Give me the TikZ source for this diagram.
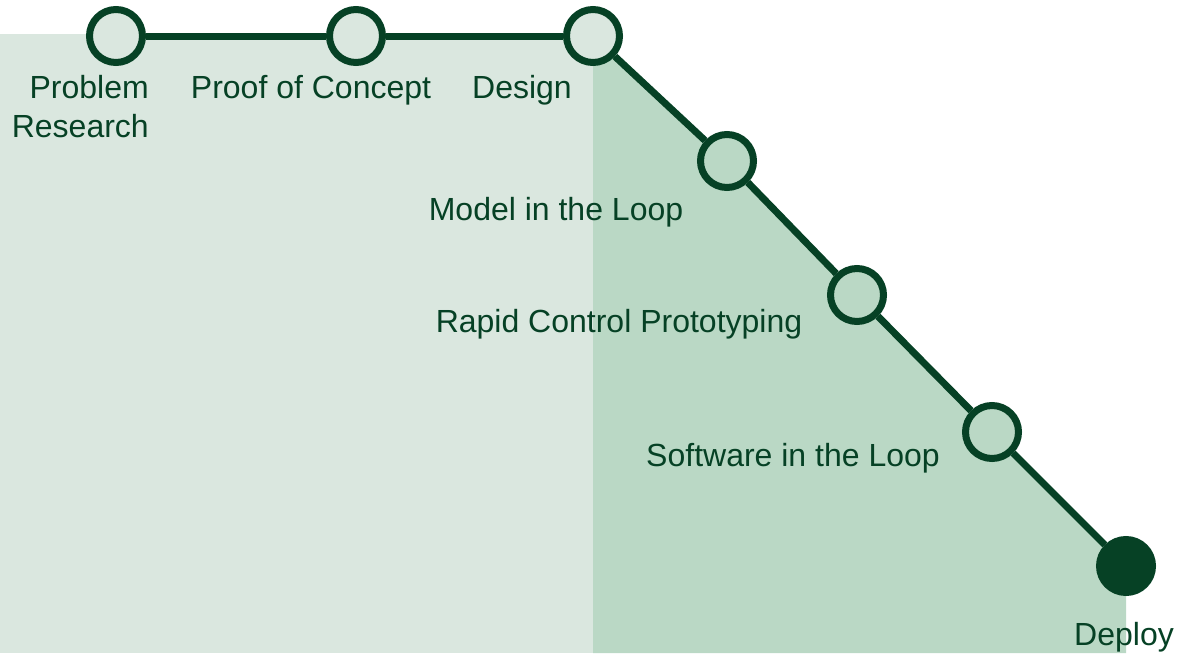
\documentclass[tikz,border=0pt]{standalone}
\usepackage{fontspec}
\setmainfont{Liberation Sans}
\definecolor{lightbg}{HTML}{DAE7DF}
\definecolor{darkbg}{HTML}{BAD8C5}
\definecolor{ink}{HTML}{064125}
\begin{document}
\begin{tikzpicture}[x=1pt,y=-1pt,
  stage/.style={circle,draw=ink,line width=7pt,minimum size=53pt,inner sep=0pt},
  lbl/.style={text=ink,font=\fontsize{32}{39}\selectfont,inner sep=0pt,anchor=base},
  link/.style={draw=ink,line width=7pt}]
\useasboundingbox (0,0) rectangle (1177,653);
\fill[lightbg] (0,34) rectangle (593,653);
\fill[darkbg] (593,36) -- (727,161) -- (857,295) -- (992,432) -- (1126,566) -- (1126,653) -- (593,653) -- cycle;
\node[stage,fill=lightbg] (pr) at (116,36) {};
\node[stage,fill=lightbg] (poc) at (356,36) {};
\node[stage,fill=lightbg] (des) at (593,36) {};
\node[stage,fill=darkbg] (mil) at (727,161) {};
\node[stage,fill=darkbg] (rcp) at (857,295) {};
\node[stage,fill=darkbg] (sil) at (992,432) {};
\node[stage,fill=ink] (dep) at (1126,566) {};
\draw[link] (pr) -- (poc);
\draw[link] (poc) -- (des);
\draw[link] (des) -- (mil);
\draw[link] (mil) -- (rcp);
\draw[link] (rcp) -- (sil);
\draw[link] (sil) -- (dep);
\node[lbl,anchor=base east] (lpr1) at (149,98) {Problem};
\node[lbl,anchor=base east] (lpr2) at (149,137) {Research};
\node[lbl] (lpoc) at (311,98) {Proof of Concept};
\node[lbl] (ldes) at (522,98) {Design};
\node[lbl] (lmil) at (556,220) {Model in the Loop};
\node[lbl] (lrcp) at (619,332) {Rapid Control Prototyping};
\node[lbl] (lsil) at (793,466) {Software in the Loop};
\node[lbl] (ldep) at (1124,645) {Deploy};
\end{tikzpicture}
\end{document}
